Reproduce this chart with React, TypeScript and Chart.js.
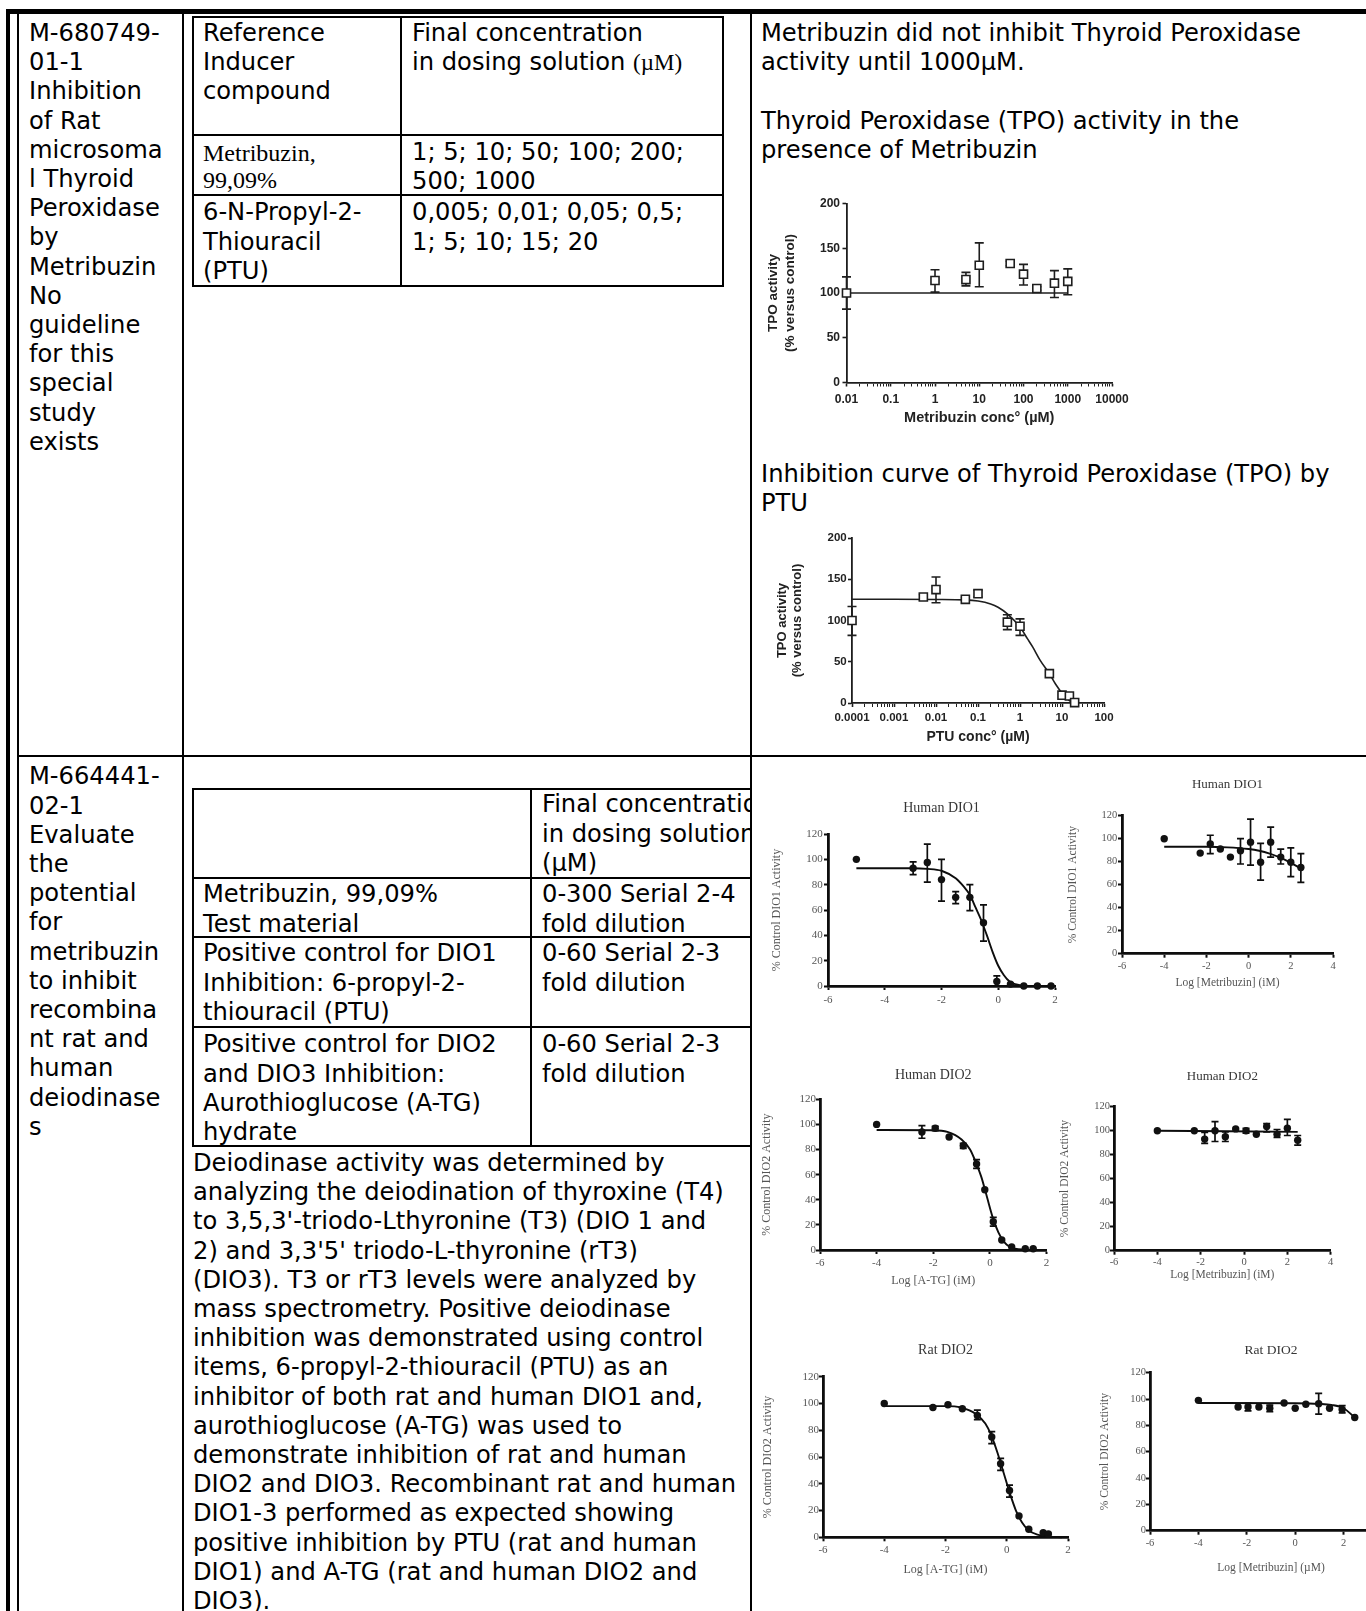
import React, { useEffect, useRef } from "react";
import { Chart, registerables } from "chart.js";

Chart.register(...registerables);

// ---------------- TPO – Metribuzin ----------------
const tpoMetConc = [0.01, 1, 5, 10, 50, 100, 200, 500, 1000];
const tpoMetActivity = [100, 114, 115, 131, 133, 121, 105, 111, 113];
const tpoMetErrLow = [82, 101, 108, 107, 130.5, 109, 103, 95, 98];
const tpoMetErrHigh = [118, 126, 123, 156, 135.5, 132, 107, 125, 127];
const tpoMetFitConc = [0.01, 1000];
const tpoMetFitActivity = [100, 100];
const tpoMetXTicks = [0.01, 0.1, 1, 10, 100, 1000, 10000];
const tpoMetXTickLabels = ["0.01", "0.1", "1", "10", "100", "1000", "10000"];

// ---------------- TPO – PTU ----------------
const tpoPtuConc = [0.0001, 0.005, 0.01, 0.05, 0.1, 0.5, 1, 5, 10, 15, 20];
const tpoPtuActivity = [100, 128.5, 137.5, 125.7, 132.5, 98, 93, 35.6, 9.5, 8.5, 0.5];
const tpoPtuErrLow = [82, 124.5, 121.5, 124, 128.5, 89, 82, null, null, null, null];
const tpoPtuErrHigh = [117, 131.7, 152.7, 127.5, 136.6, 107, 102, null, null, null, null];
const tpoPtuFitConc = [0.0001, 0.001, 0.01, 0.05, 0.1, 0.2, 0.3, 0.5, 1, 1.5, 2, 3, 5, 7, 10, 15, 20];
const tpoPtuFitActivity = [125.7, 125.7, 125.5, 125, 123.6, 120, 116, 108, 92, 78, 68, 52, 35.6, 23, 12, 3, 0];
const tpoPtuXTicks = [0.0001, 0.001, 0.01, 0.1, 1, 10, 100];
const tpoPtuXTickLabels = ["0.0001", "0.001", "0.01", "0.1", "1", "10", "100"];

const tpoYTicks = [0, 50, 100, 150, 200];
const tpoYTickLabels = ["0", "50", "100", "150", "200"];

// ---------------- Human DIO1 – PTU ----------------
const hDio1PtuLog = [-5, -3, -2.5, -2, -1.5, -1, -0.52, -0.05, 0.43, 0.9, 1.38, 1.86];
const hDio1PtuAct = [100, 93, 97.5, 84, 70, 70, 50, 3.5, 1.5, 0, 0, 0];
const hDio1PtuLow = [null, 88, 82, 67, 65, 59.5, 35.5, 0, null, null, null, null];
const hDio1PtuHigh = [null, 98, 112, 100, 74.5, 80, 64, 8, null, null, null, null];
const hDio1PtuFitLog = [-5, -3, -2.5, -2, -1.5, -1.2, -1, -0.8, -0.6, -0.5, -0.4, -0.2, 0, 0.2, 0.4, 0.6, 0.8, 1.0];
const hDio1PtuFitAct = [93, 93, 92.5, 91, 85, 78, 72, 62, 52, 46, 40, 27, 16, 8.5, 3.5, 1.5, 0.5, 0];

// ---------------- Human DIO1 – Metribuzin ----------------
const hDio1MetLog = [-4, -2.294, -1.816, -1.339, -0.862, -0.385, 0.092, 0.569, 1.046, 1.523, 2.0, 2.477];
const hDio1MetAct = [100, 87.5, 95.5, 91, 84, 89.5, 97, 79.5, 97, 84, 79.5, 75];
const hDio1MetLow = [null, null, 87, null, null, 78, 77, 64, 84, 78, 67, 62];
const hDio1MetHigh = [null, null, 103, null, null, 100, 117, 96, 110, 91, 92, 87];
const hDio1MetFitLog = [-4, -2, -1, 0, 0.5, 1, 1.5, 2, 2.477];
const hDio1MetFitAct = [93, 93, 92.5, 91, 89.5, 87, 83.5, 79, 74];

// ---------------- Human DIO2 – A-TG ----------------
const hDio2AtgLog = [-4, -2.4, -1.93, -1.44, -0.94, -0.47, -0.18, 0.12, 0.42, 0.77, 1.25, 1.53];
const hDio2AtgAct = [100, 94, 97, 90, 83, 68.5, 48, 22.5, 8, 2.5, 1, 1];
const hDio2AtgLow = [null, 89, 95, null, 81, 65, null, 19, null, null, null, null];
const hDio2AtgHigh = [null, 99, 98.5, null, 85, 72, null, 26, null, null, null, null];
const hDio2AtgFitLog = [-4, -2, -1.5, -1, -0.7, -0.5, -0.3, -0.1, 0.1, 0.3, 0.5, 0.7, 0.9, 1.2, 1.5];
const hDio2AtgFitAct = [95.5, 95.3, 94, 88, 80, 70, 58, 42, 26, 14, 6.5, 2.5, 1, 0.3, 0];

// ---------------- Human DIO2 – Metribuzin ----------------
const hDio2MetLog = [-4, -2.294, -1.816, -1.339, -0.862, -0.385, 0.092, 0.569, 1.046, 1.523, 2.0, 2.477];
const hDio2MetAct = [100, 100, 93, 100, 95, 101.5, 100, 97, 103.5, 97, 102, 92];
const hDio2MetLow = [null, null, 89.5, 91, 91, null, 98, null, 99, 94.5, 96, 88];
const hDio2MetHigh = [null, null, 98.5, 107.5, 99, null, 102, null, 106, 101, 109.5, 96];
const hDio2MetFitLog = [-4, 2.477];
const hDio2MetFitAct = [100, 99];

// ---------------- Rat DIO2 – A-TG ----------------
const rDio2AtgLog = [-4, -2.41, -1.92, -1.45, -0.96, -0.49, -0.2, 0.09, 0.4, 0.72, 1.19, 1.36];
const rDio2AtgAct = [100, 97, 99, 96, 91, 75, 55, 35, 16, 6, 3.5, 2.5];
const rDio2AtgLow = [null, null, null, null, 88, 70, 50, 30, null, null, null, null];
const rDio2AtgHigh = [null, null, null, null, 95, 79, 59, 39, null, null, null, null];
const rDio2AtgFitLog = [-4, -2, -1.5, -1, -0.7, -0.5, -0.3, -0.1, 0.1, 0.3, 0.5, 0.7, 1.0, 1.4, 1.8];
const rDio2AtgFitAct = [98, 98, 97, 92, 85, 76, 63, 48, 33, 20, 11, 5.5, 2, 0.5, 0];

// ---------------- Rat DIO2 – Metribuzin ----------------
const rDio2MetLog = [-4, -2.36, -1.95, -1.5, -1.05, -0.46, 0, 0.44, 0.97, 1.42, 1.94, 2.46];
const rDio2MetAct = [99, 94, 94, 94, 93, 97, 93, 96, 96.5, 93, 92, 86];
const rDio2MetLow = [null, null, 91, null, 90.5, null, null, null, 88.5, null, 89.5, null];
const rDio2MetHigh = [null, null, 96.7, null, 95.4, null, null, null, 104.3, null, 95, null];
const rDio2MetFitLog = [-4, 0, 1, 1.5, 2, 2.46];
const rDio2MetFitAct = [97, 96.8, 96.3, 95.5, 93, 86];

const dioYTicks = [0, 20, 40, 60, 80, 100, 120];
const dioYTickLabels = ["0", "20", "40", "60", "80", "100", "120"];
const dioXTicksShort = [-6, -4, -2, 0, 2];
const dioXTickLabelsShort = ["-6", "-4", "-2", "0", "2"];
const dioXTicksLong = [-6, -4, -2, 0, 2, 4];
const dioXTickLabelsLong = ["-6", "-4", "-2", "0", "2", "4"];

// ---------------- helpers ----------------
type Pt = { x: number; y: number; lo: number | null; hi: number | null };

const zipPts = (xs: number[], ys: number[], lo: (number | null)[], hi: (number | null)[]): Pt[] =>
  xs.map((x, i) => ({ x, y: ys[i], lo: lo[i], hi: hi[i] }));
const zipLine = (xs: number[], ys: number[]) => xs.map((x, i) => ({ x, y: ys[i] }));

const errorBars = {
  id: "errorBars",
  beforeDatasetsDraw(chart: any) {
    const ctx = chart.ctx;
    const xs = chart.scales.x;
    const ys = chart.scales.y;
    chart.data.datasets.forEach((ds: any) => {
      if (!ds.errCap) return;
      ctx.save();
      ctx.strokeStyle = ds.errColor;
      ctx.lineWidth = ds.errWidth;
      ctx.beginPath();
      ds.data.forEach((p: Pt) => {
        if (p.lo == null || p.hi == null) return;
        const px = xs.getPixelForValue(p.x);
        const a = ys.getPixelForValue(p.lo);
        const b = ys.getPixelForValue(p.hi);
        ctx.moveTo(px, a);
        ctx.lineTo(px, b);
        ctx.moveTo(px - ds.errCap, a);
        ctx.lineTo(px + ds.errCap, a);
        ctx.moveTo(px - ds.errCap, b);
        ctx.lineTo(px + ds.errCap, b);
      });
      ctx.stroke();
      ctx.restore();
    });
  },
};

type Spec = {
  box: number[];
  area: number[];
  kind: "tpo" | "dio";
  xLog: boolean;
  xMin: number;
  xMax: number;
  xTicks: number[];
  xLabels: string[];
  yMin: number;
  yMax: number;
  yTicks: number[];
  yLabels: string[];
  points: Pt[];
  curve: { x: number; y: number }[];
  title?: string;
  titleCY?: number;
  titleSize?: number;
  yTitle: string[];
  yTitleCX: number;
  yTitleSize: number;
  yTitleLH: number;
  xTitle?: string;
  xTitleCY?: number;
  xTitleSize?: number;
  tickSize: number;
  xTickCY: number;
  yTickRight: number;
};

function buildConfig(s: Spec): any {
  const [left, top, w, h] = s.box;
  const [x0, y0, x1, y1] = s.area;
  const tpo = s.kind === "tpo";
  const fam = tpo ? '"Liberation Sans", Arial, sans-serif' : '"Liberation Serif", "Times New Roman", serif';
  const weight = tpo ? "bold" : "normal";
  const ink = tpo ? "#1e1e1e" : "#0d0d0d";
  const textInk = tpo ? "#222" : "#555";
  const axisW = tpo ? 1.8 : 2.8;
  const tl = 4;
  const tickL = s.tickSize * 1.2;
  const minorX: number[] = [];
  if (s.xLog) {
    for (let i = 0; i < s.xTicks.length - 1; i++) {
      for (let k = 2; k <= 9; k++) minorX.push(s.xTicks[i] * k);
    }
  }
  const allX = [...s.xTicks, ...minorX].sort((a, b) => a - b);
  const hasTitle = !!s.title;
  const titleSize = s.titleSize || 14;
  const titleL = titleSize * 1.2;
  const tp = hasTitle ? (s.titleCY as number) - top - titleL / 2 : 0;
  const bp = hasTitle ? y0 - top - tp - titleL : 0;
  const yTL = s.yTitleSize * s.yTitleLH;
  const xTitleSize = s.xTitleSize || 12;
  const xTL = xTitleSize * 1.2;

  return {
    type: "scatter",
    data: {
      datasets: [
        {
          data: s.points,
          pointStyle: tpo ? "rect" : "circle",
          pointRadius: tpo ? 5.7 : 3.7,
          backgroundColor: tpo ? "#ffffff" : "#111111",
          borderColor: ink,
          borderWidth: tpo ? 1.6 : 0,
          showLine: false,
          clip: false,
          errCap: tpo ? 4.5 : 3.5,
          errColor: ink,
          errWidth: tpo ? 1.6 : 1.7,
        },
        {
          data: s.curve,
          showLine: true,
          borderColor: ink,
          borderWidth: tpo ? 1.6 : 1.9,
          pointRadius: 0,
          cubicInterpolationMode: "monotone",
          clip: false,
          fill: false,
        },
      ],
    },
    options: {
      responsive: false,
      animation: false,
      events: [],
      layout: {
        padding: { left: 0, bottom: 0, top: hasTitle ? 0 : y0 - top, right: left + w - x1 },
      },
      plugins: {
        legend: { display: false },
        tooltip: { enabled: false },
        title: hasTitle
          ? {
              display: true,
              text: s.title,
              fullSize: false,
              color: "#363636",
              font: { family: fam, size: titleSize, weight: "normal", lineHeight: 1.2 },
              padding: { top: tp, bottom: bp },
            }
          : { display: false },
      },
      scales: {
        x: {
          type: s.xLog ? "logarithmic" : "linear",
          position: "bottom",
          min: s.xMin,
          max: s.xMax,
          bounds: "data",
          afterFit: (sc: any) => {
            sc.height = top + h - y1;
          },
          afterBuildTicks: (sc: any) => {
            sc.ticks = allX.map((v) => ({ value: v, major: s.xTicks.indexOf(v) >= 0 }));
          },
          border: { display: true, color: ink, width: axisW },
          grid: {
            display: true,
            drawOnChartArea: false,
            drawTicks: true,
            tickLength: tl,
            tickColor: ink,
            tickWidth: (c: any) => (s.xLog && c.tick && !c.tick.major ? 1 : tpo ? 1.6 : 2),
          },
          ticks: {
            autoSkip: false,
            maxRotation: 0,
            minRotation: 0,
            padding: Math.max(0, s.xTickCY - y1 - tl - tickL / 2),
            color: textInk,
            font: { family: fam, size: s.tickSize, weight, lineHeight: 1.2 },
            callback: (v: any) => {
              const k = s.xTicks.indexOf(v);
              return k >= 0 ? s.xLabels[k] : "";
            },
          },
          title: s.xTitle
            ? {
                display: true,
                text: s.xTitle,
                color: textInk,
                font: { family: fam, size: xTitleSize, weight, lineHeight: 1.2 },
                padding: { top: 0, bottom: top + h - (s.xTitleCY as number) - xTL / 2 },
              }
            : { display: false },
        },
        y: {
          type: "linear",
          position: "left",
          min: s.yMin,
          max: s.yMax,
          bounds: "data",
          afterFit: (sc: any) => {
            sc.width = x0 - left;
          },
          afterBuildTicks: (sc: any) => {
            sc.ticks = s.yTicks.map((v) => ({ value: v }));
          },
          border: { display: true, color: ink, width: axisW },
          grid: {
            display: true,
            drawOnChartArea: false,
            drawTicks: true,
            tickLength: tl,
            tickColor: ink,
            tickWidth: tpo ? 1.6 : 2,
          },
          ticks: {
            autoSkip: false,
            padding: Math.max(0, x0 - tl - s.yTickRight),
            color: textInk,
            font: { family: fam, size: s.tickSize, weight, lineHeight: 1.2 },
            callback: (v: any) => {
              const k = s.yTicks.indexOf(v);
              return k >= 0 ? s.yLabels[k] : "";
            },
          },
          title: {
            display: true,
            text: s.yTitle,
            color: textInk,
            font: { family: fam, size: s.yTitleSize, weight, lineHeight: s.yTitleLH },
            padding: { top: s.yTitleCX - left - yTL / 2, bottom: 0 },
          },
        },
      },
    },
    plugins: [errorBars],
  };
}

const specs: Spec[] = [
  {
    box: [755, 185, 380, 245],
    area: [846.5, 203.5, 1113, 382.5],
    kind: "tpo",
    xLog: true,
    xMin: 0.01,
    xMax: 10000,
    xTicks: tpoMetXTicks,
    xLabels: tpoMetXTickLabels,
    yMin: 0,
    yMax: 200,
    yTicks: tpoYTicks,
    yLabels: tpoYTickLabels,
    points: zipPts(tpoMetConc, tpoMetActivity, tpoMetErrLow, tpoMetErrHigh),
    curve: zipLine(tpoMetFitConc, tpoMetFitActivity),
    yTitle: ["TPO activity", "(% versus control)"],
    yTitleCX: 773,
    yTitleSize: 13.5,
    yTitleLH: 1.26,
    xTitle: "Metribuzin conc° (µM)",
    xTitleCY: 418,
    xTitleSize: 14.5,
    tickSize: 12,
    xTickCY: 400,
    yTickRight: 840,
  },
  {
    box: [760, 520, 370, 232],
    area: [852, 538, 1104, 703],
    kind: "tpo",
    xLog: true,
    xMin: 0.0001,
    xMax: 100,
    xTicks: tpoPtuXTicks,
    xLabels: tpoPtuXTickLabels,
    yMin: 0,
    yMax: 200,
    yTicks: tpoYTicks,
    yLabels: tpoYTickLabels,
    points: zipPts(tpoPtuConc, tpoPtuActivity, tpoPtuErrLow, tpoPtuErrHigh),
    curve: zipLine(tpoPtuFitConc, tpoPtuFitActivity),
    yTitle: ["TPO activity", "(% versus control)"],
    yTitleCX: 782,
    yTitleSize: 13,
    yTitleLH: 1.15,
    xTitle: "PTU conc° (µM)",
    xTitleCY: 737,
    xTitleSize: 14,
    tickSize: 11.5,
    xTickCY: 718,
    yTickRight: 846.7,
  },
  {
    box: [760, 790, 305, 230],
    area: [828, 834, 1055, 986],
    kind: "dio",
    xLog: false,
    xMin: -6,
    xMax: 2,
    xTicks: dioXTicksShort,
    xLabels: dioXTickLabelsShort,
    yMin: 0,
    yMax: 120,
    yTicks: dioYTicks,
    yLabels: dioYTickLabels,
    points: zipPts(hDio1PtuLog, hDio1PtuAct, hDio1PtuLow, hDio1PtuHigh),
    curve: zipLine(hDio1PtuFitLog, hDio1PtuFitAct),
    title: "Human DIO1",
    titleCY: 808,
    titleSize: 14,
    yTitle: ["% Control DIO1 Activity"],
    yTitleCX: 777,
    yTitleSize: 12,
    yTitleLH: 1.2,
    tickSize: 11,
    xTickCY: 1000,
    yTickRight: 822.7,
  },
  {
    box: [1060, 765, 290, 235],
    area: [1122, 815.7, 1333, 953.7],
    kind: "dio",
    xLog: false,
    xMin: -6,
    xMax: 4,
    xTicks: dioXTicksLong,
    xLabels: dioXTickLabelsLong,
    yMin: 0,
    yMax: 120,
    yTicks: dioYTicks,
    yLabels: dioYTickLabels,
    points: zipPts(hDio1MetLog, hDio1MetAct, hDio1MetLow, hDio1MetHigh),
    curve: zipLine(hDio1MetFitLog, hDio1MetFitAct),
    title: "Human DIO1",
    titleCY: 785,
    titleSize: 13,
    yTitle: ["% Control DIO1 Activity"],
    yTitleCX: 1073,
    yTitleSize: 11.5,
    yTitleLH: 1.2,
    xTitle: "Log [Metribuzin] (iM)",
    xTitleCY: 983,
    xTitleSize: 11.5,
    tickSize: 10.5,
    xTickCY: 966.7,
    yTickRight: 1117.3,
  },
  {
    box: [755, 1055, 310, 240],
    area: [820, 1099.3, 1046.5, 1250],
    kind: "dio",
    xLog: false,
    xMin: -6,
    xMax: 2,
    xTicks: dioXTicksShort,
    xLabels: dioXTickLabelsShort,
    yMin: 0,
    yMax: 120,
    yTicks: dioYTicks,
    yLabels: dioYTickLabels,
    points: zipPts(hDio2AtgLog, hDio2AtgAct, hDio2AtgLow, hDio2AtgHigh),
    curve: zipLine(hDio2AtgFitLog, hDio2AtgFitAct),
    title: "Human DIO2",
    titleCY: 1075,
    titleSize: 14,
    yTitle: ["% Control DIO2 Activity"],
    yTitleCX: 766.7,
    yTitleSize: 12,
    yTitleLH: 1.2,
    xTitle: "Log [A-TG] (iM)",
    xTitleCY: 1281,
    xTitleSize: 12,
    tickSize: 11,
    xTickCY: 1263,
    yTickRight: 816.7,
  },
  {
    box: [1055, 1055, 295, 235],
    area: [1114, 1106.7, 1330.7, 1250.7],
    kind: "dio",
    xLog: false,
    xMin: -6,
    xMax: 4,
    xTicks: dioXTicksLong,
    xLabels: dioXTickLabelsLong,
    yMin: 0,
    yMax: 120,
    yTicks: dioYTicks,
    yLabels: dioYTickLabels,
    points: zipPts(hDio2MetLog, hDio2MetAct, hDio2MetLow, hDio2MetHigh),
    curve: zipLine(hDio2MetFitLog, hDio2MetFitAct),
    title: "Human DIO2",
    titleCY: 1077,
    titleSize: 13,
    yTitle: ["% Control DIO2 Activity"],
    yTitleCX: 1065,
    yTitleSize: 11.5,
    yTitleLH: 1.2,
    xTitle: "Log [Metribuzin] (iM)",
    xTitleCY: 1275,
    xTitleSize: 11.5,
    tickSize: 10.5,
    xTickCY: 1262,
    yTickRight: 1110,
  },
  {
    box: [755, 1330, 330, 260],
    area: [823, 1376.7, 1068, 1537.3],
    kind: "dio",
    xLog: false,
    xMin: -6,
    xMax: 2,
    xTicks: dioXTicksShort,
    xLabels: dioXTickLabelsShort,
    yMin: 0,
    yMax: 120,
    yTicks: dioYTicks,
    yLabels: dioYTickLabels,
    points: zipPts(rDio2AtgLog, rDio2AtgAct, rDio2AtgLow, rDio2AtgHigh),
    curve: zipLine(rDio2AtgFitLog, rDio2AtgFitAct),
    title: "Rat DIO2",
    titleCY: 1350.7,
    titleSize: 14,
    yTitle: ["% Control DIO2 Activity"],
    yTitleCX: 768.3,
    yTitleSize: 12,
    yTitleLH: 1.2,
    xTitle: "Log [A-TG] (iM)",
    xTitleCY: 1570,
    xTitleSize: 12,
    tickSize: 11,
    xTickCY: 1550,
    yTickRight: 820,
  },
  {
    box: [1090, 1330, 330, 260],
    area: [1150, 1372.7, 1392, 1530.7],
    kind: "dio",
    xLog: false,
    xMin: -6,
    xMax: 4,
    xTicks: dioXTicksLong,
    xLabels: dioXTickLabelsLong,
    yMin: 0,
    yMax: 120,
    yTicks: dioYTicks,
    yLabels: dioYTickLabels,
    points: zipPts(rDio2MetLog, rDio2MetAct, rDio2MetLow, rDio2MetHigh),
    curve: zipLine(rDio2MetFitLog, rDio2MetFitAct),
    title: "Rat DIO2",
    titleCY: 1350,
    titleSize: 13.5,
    yTitle: ["% Control DIO2 Activity"],
    yTitleCX: 1105,
    yTitleSize: 11.5,
    yTitleLH: 1.2,
    xTitle: "Log [Metribuzin] (µM)",
    xTitleCY: 1568,
    xTitleSize: 11.5,
    tickSize: 10.5,
    xTickCY: 1543.3,
    yTickRight: 1146,
  },
];

function ChartCanvas({ spec }: { spec: Spec }) {
  const ref = useRef<HTMLCanvasElement | null>(null);
  useEffect(() => {
    const chart = new Chart(ref.current as HTMLCanvasElement, buildConfig(spec));
    return () => chart.destroy();
  }, [spec]);
  const [l, t, w, h] = spec.box;
  return (
    <canvas
      ref={ref}
      width={w}
      height={h}
      style={{ position: "absolute", left: l, top: t, width: w, height: h }}
    />
  );
}

const SANS = '"DejaVu Sans", Verdana, sans-serif';
const SERIF = '"Liberation Serif", "Times New Roman", serif';
const LH = 29.2;

function Txt({ x, cy, children, size = 24.2, lh = LH, fam = SANS }: any) {
  return (
    <div
      style={{
        position: "absolute",
        left: x,
        top: cy - lh / 2,
        fontFamily: fam,
        fontSize: size,
        lineHeight: lh + "px",
        whiteSpace: "pre",
        color: "#000",
      }}
    >
      {children}
    </div>
  );
}

function Bar({ x, y, w, h, c = "#000" }: any) {
  return <div style={{ position: "absolute", left: x, top: y, width: w, height: h, background: c }} />;
}

export default function App() {
  return (
    <div
      style={{
        position: "absolute",
        left: 0,
        top: 0,
        width: 1366,
        height: 1611,
        overflow: "hidden",
        background: "#fff",
      }}
    >
      {/* Row 1, column 1 */}
      <Txt x={29} cy={33.5}>
        {"M-680749-\n01-1\nInhibition\nof Rat\nmicrosoma\nl Thyroid\nPeroxidase\nby\nMetribuzin\nNo\nguideline\nfor this\nspecial\nstudy\nexists"}
      </Txt>

      {/* Row 1, column 2 table */}
      <Bar x={192} y={16} w={532} h={2} />
      <Bar x={192} y={134} w={532} h={2} />
      <Bar x={192} y={194} w={532} h={2} />
      <Bar x={192} y={285} w={532} h={2} />
      <Bar x={192} y={16} w={2} h={271} />
      <Bar x={400} y={16} w={2} h={271} />
      <Bar x={722} y={16} w={2} h={271} />
      <Txt x={203} cy={33.5}>{"Reference\nInducer\ncompound"}</Txt>
      <Txt x={412} cy={33.5}>
        {"Final concentration\nin dosing solution "}
        <span style={{ fontFamily: SERIF, fontSize: 23 }}>(µM)</span>
      </Txt>
      <Txt x={203} cy={153} fam={SERIF} lh={27} size={24}>{"Metribuzin,\n99,09%"}</Txt>
      <Txt x={412} cy={152.5}>{"1; 5; 10; 50; 100; 200;\n500; 1000"}</Txt>
      <Txt x={203} cy={213}>{"6-N-Propyl-2-\nThiouracil\n(PTU)"}</Txt>
      <Txt x={412} cy={213}>{"0,005; 0,01; 0,05; 0,5;\n1; 5; 10; 15; 20"}</Txt>

      {/* Row 1, column 3 */}
      <Txt x={761} cy={33.5}>
        {"Metribuzin did not inhibit Thyroid Peroxidase\nactivity until 1000µM.\n\nThyroid Peroxidase (TPO) activity in the\npresence of Metribuzin"}
      </Txt>
      <Txt x={761} cy={474.5}>{"Inhibition curve of Thyroid Peroxidase (TPO) by\nPTU"}</Txt>

      {/* Row 2, column 1 */}
      <Txt x={29} cy={777}>
        {"M-664441-\n02-1\nEvaluate\nthe\npotential\nfor\nmetribuzin\nto inhibit\nrecombina\nnt rat and\nhuman\ndeiodinase\ns"}
      </Txt>

      {/* Row 2, column 2 table */}
      <Bar x={192} y={788} w={820} h={2} />
      <Bar x={192} y={877} w={820} h={2} />
      <Bar x={192} y={936} w={820} h={2} />
      <Bar x={192} y={1026} w={820} h={2} />
      <Bar x={192} y={1145} w={820} h={2} />
      <Bar x={192} y={788} w={2} h={359} />
      <Bar x={530} y={788} w={2} h={359} />
      <Txt x={542} cy={805}>{"Final concentration\nin dosing solution\n(µM)"}</Txt>
      <Txt x={203} cy={895}>{"Metribuzin, 99,09%\nTest material"}</Txt>
      <Txt x={542} cy={895}>{"0-300 Serial 2-4\nfold dilution"}</Txt>
      <Txt x={203} cy={954}>{"Positive control for DIO1\nInhibition: 6-propyl-2-\nthiouracil (PTU)"}</Txt>
      <Txt x={542} cy={954}>{"0-60 Serial 2-3\nfold dilution"}</Txt>
      <Txt x={203} cy={1045}>{"Positive control for DIO2\nand DIO3 Inhibition:\nAurothioglucose (A-TG)\nhydrate"}</Txt>
      <Txt x={542} cy={1045}>{"0-60 Serial 2-3\nfold dilution"}</Txt>
      <Txt x={193} cy={1163.5}>
        {"Deiodinase activity was determined by\nanalyzing the deiodination of thyroxine (T4)\nto 3,5,3'-triodo-Lthyronine (T3) (DIO 1 and\n2) and 3,3'5' triodo-L-thyronine (rT3)\n(DIO3). T3 or rT3 levels were analyzed by\nmass spectrometry. Positive deiodinase\ninhibition was demonstrated using control\nitems, 6-propyl-2-thiouracil (PTU) as an\ninhibitor of both rat and human DIO1 and,\naurothioglucose (A-TG) was used to\ndemonstrate inhibition of rat and human\nDIO2 and DIO3. Recombinant rat and human\nDIO1-3 performed as expected showing\npositive inhibition by PTU (rat and human\nDIO1) and A-TG (rat and human DIO2 and\nDIO3)."}
      </Txt>

      {/* cover for column 3 of row 2 (clips the table) */}
      <Bar x={752} y={757} w={614} h={854} c="#fff" />

      {specs.map((s, i) => (
        <ChartCanvas key={i} spec={s} />
      ))}

      {/* outer frame */}
      <Bar x={6} y={9} w={1360} h={5} />
      <Bar x={6} y={9} w={4} h={1602} />
      <Bar x={17} y={14} w={2} h={1597} />
      <Bar x={182} y={14} w={2} h={1597} />
      <Bar x={750} y={14} w={2} h={1597} />
      <Bar x={17} y={755} w={1349} h={2} />
    </div>
  );
}
